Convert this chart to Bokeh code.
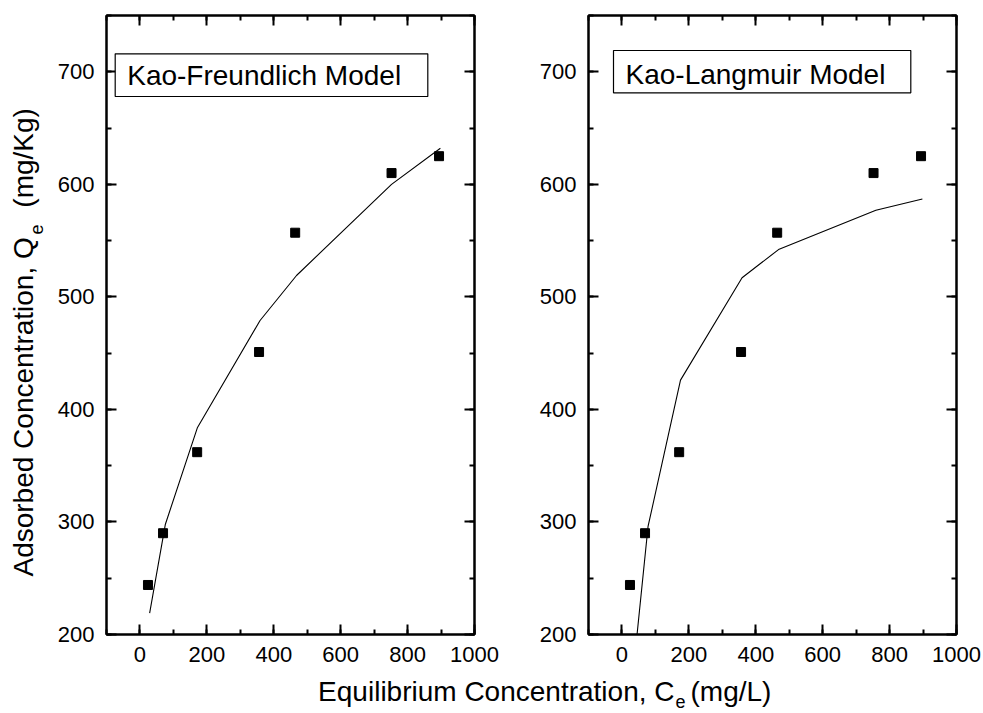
import math
from bokeh.plotting import figure
from bokeh.layouts import row, column
from bokeh.models import (Range1d, LinearAxis, SingleIntervalTicker, Label,
                          BoxAnnotation, CustomJSTickFormatter)
from bokeh.embed import file_html
from bokeh.resources import INLINE

# ---------------- data ----------------
ce_obs = [24, 69, 171, 356, 464, 752, 894]          # mg/L
qe_obs = [244, 290, 362, 451, 557, 610, 625]        # mg/Kg

freundlich_x = [29, 76, 172, 359, 468, 752, 898]
freundlich_y = [219, 298, 384, 479, 519, 600, 632]

langmuir_x = [28, 78, 175, 359, 468, 759, 898]
langmuir_y = [150, 296, 426, 517, 542, 577, 587]

x_ticks_interval = 200
y_ticks_interval = 100
panel_titles = ["Kao-Freundlich Model", "Kao-Langmuir Model"]
x_label_main, x_label_sub, x_label_tail = "Equilibrium Concentration, C", "e", "(mg/L)"
y_label_main, y_label_sub, y_label_tail = "Adsorbed Concentration, Q", "e", "(mg/Kg)"

# ---------------- layout / style ----------------
FONT = "Liberation Sans"
X0, X1 = -100, 1000
Y0, Y1 = 200, 750
FW, FH = 368, 619
TOP = 15
BOTTOM = 36
PANEL_H = TOP + FH + BOTTOM      # 670
SX = FW / (X1 - X0)
SY = FH / (Y1 - Y0)
BL_FIX = 0.36                    # alphabetic-baseline correction (em)


def xd(px_abs, canvas_left, border_left):
    """absolute pixel -> data x of a panel"""
    return X0 + (px_abs - canvas_left - border_left) / SX


def yd(py):
    return Y0 + (TOP + FH - py) / SY


def style_axis(ax, show_labels=True):
    ax.axis_line_color = "black"
    ax.axis_line_width = 2
    ax.major_tick_line_color = "black"
    ax.major_tick_line_width = 2
    ax.minor_tick_line_color = "black"
    ax.minor_tick_line_width = 2
    ax.major_tick_in = 10
    ax.major_tick_out = 0
    ax.minor_tick_in = 5
    ax.minor_tick_out = 0
    ax.major_label_text_font = FONT
    ax.major_label_text_font_size = "22px"
    ax.major_label_text_color = "black"
    if show_labels:
        ax.major_label_standoff = 12
    else:
        ax.formatter = CustomJSTickFormatter(code="return ''")
        ax.major_label_standoff = 0


def make_panel(canvas_left, left_border, right_border, fit_x, fit_y, title, box, text_pos):
    p = figure(x_range=Range1d(X0, X1), y_range=Range1d(Y0, Y1),
               frame_width=FW, frame_height=FH,
               min_border_left=left_border, min_border_right=right_border,
               min_border_top=TOP, min_border_bottom=BOTTOM,
               toolbar_location=None, output_backend="svg",
               x_axis_location=None, y_axis_location=None)
    p.grid.visible = False
    p.outline_line_color = "black"
    p.outline_line_width = 2
    p.background_fill_color = "white"
    p.border_fill_color = "white"

    for loc, show in (("below", True), ("above", False)):
        ax = LinearAxis(ticker=SingleIntervalTicker(interval=x_ticks_interval, num_minor_ticks=2))
        style_axis(ax, show)
        p.add_layout(ax, loc)
    for loc, show in (("left", True), ("right", False)):
        ax = LinearAxis(ticker=SingleIntervalTicker(interval=y_ticks_interval, num_minor_ticks=2))
        style_axis(ax, show)
        p.add_layout(ax, loc)

    p.line(fit_x, fit_y, line_color="black", line_width=1.1)
    p.scatter(ce_obs, qe_obs, marker="square", size=9,
              fill_color="black", line_color="black")

    bl, br, bb, bt = box
    p.add_layout(BoxAnnotation(left=xd(bl, canvas_left, left_border),
                               right=xd(br, canvas_left, left_border),
                               bottom=yd(bb), top=yd(bt),
                               fill_color="white", fill_alpha=1.0,
                               line_color="black", line_alpha=1.0, line_width=1.2))
    tx, ty = text_pos
    p.add_layout(Label(x=xd(tx, canvas_left, left_border), y=yd(ty - BL_FIX * 28), text=title,
                       text_font=FONT, text_font_size="28px", text_color="black",
                       text_align="left", text_baseline="alphabetic"))
    return p


# strip holding the rotated y label
YW = 50
py_ = figure(width=YW, height=PANEL_H, x_range=Range1d(0, YW), y_range=Range1d(0, PANEL_H),
             min_border=0, toolbar_location=None, output_backend="svg",
             x_axis_type=None, y_axis_type=None)
py_.grid.visible = False
py_.outline_line_color = None
py_.border_fill_color = "white"
py_.background_fill_color = "white"
ang = math.pi / 2
py_.add_layout(Label(x=33 - BL_FIX * 28, y=PANEL_H - 240, text=y_label_main, angle=ang,
                     text_font=FONT, text_font_size="28px", text_color="black",
                     text_align="right", text_baseline="alphabetic"))
py_.add_layout(Label(x=42 - BL_FIX * 18, y=PANEL_H - 237, text=y_label_sub, angle=ang,
                     text_font=FONT, text_font_size="18px", text_color="black",
                     text_align="left", text_baseline="alphabetic"))
py_.add_layout(Label(x=33 - BL_FIX * 28, y=PANEL_H - 208, text=y_label_tail, angle=ang,
                     text_font=FONT, text_font_size="28px", text_color="black",
                     text_align="left", text_baseline="alphabetic"))

p1 = make_panel(YW, 106 - YW, 26, freundlich_x, freundlich_y, panel_titles[0],
                (114.7, 427.3, 96, 53.3), (126.7, 85))
p2 = make_panel(500, 88, 27, langmuir_x, langmuir_y, panel_titles[1],
                (613, 910.3, 92.3, 50), (625, 84))

# x-axis label strip
XH = 713 - PANEL_H
px = figure(width=983, height=XH, x_range=Range1d(0, 983), y_range=Range1d(0, XH),
            min_border=0, toolbar_location=None, output_backend="svg",
            x_axis_type=None, y_axis_type=None)
px.grid.visible = False
px.outline_line_color = None
px.border_fill_color = "white"
px.background_fill_color = "white"
px.add_layout(Label(x=674, y=713 - 701 + BL_FIX * 28, text=x_label_main, text_font=FONT,
                    text_font_size="28px", text_color="black",
                    text_align="right", text_baseline="alphabetic"))
px.add_layout(Label(x=675, y=713 - 707 + BL_FIX * 18, text=x_label_sub, text_font=FONT,
                    text_font_size="18px", text_color="black",
                    text_align="left", text_baseline="alphabetic"))
px.add_layout(Label(x=690, y=713 - 701 + BL_FIX * 28, text=x_label_tail, text_font=FONT,
                    text_font_size="28px", text_color="black",
                    text_align="left", text_baseline="alphabetic"))

layout = column(row(py_, p1, p2, spacing=0), px, spacing=0)
open("out.html", "w").write(file_html(layout, INLINE))
